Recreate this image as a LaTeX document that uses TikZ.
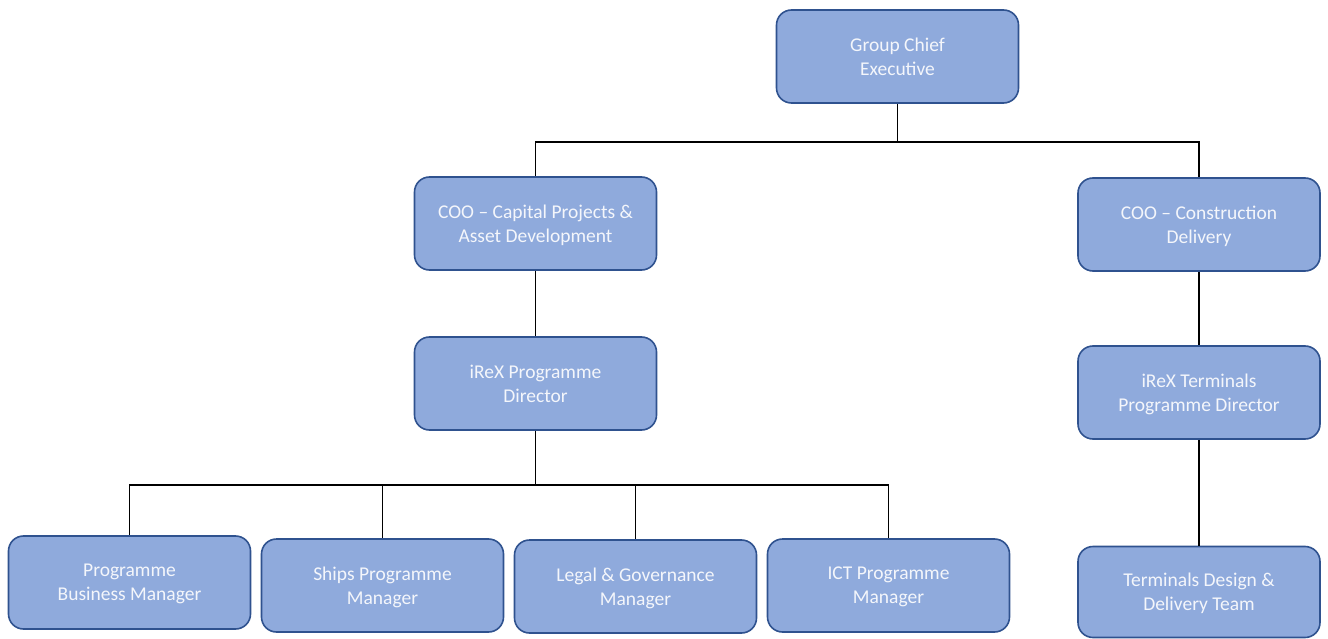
\documentclass[tikz,border=0pt]{standalone}
\usepackage{fontspec}
\setmainfont{Carlito}
\definecolor{boxfill}{HTML}{8FAADC}
\definecolor{boxline}{HTML}{2F528F}
\definecolor{boxtext}{HTML}{F4F6FB}
\begin{document}
\begin{tikzpicture}[x=1pt,y=-1pt,
  orgbox/.style={draw=boxline,fill=boxfill,line width=1.6pt,rounded corners=15pt,
    minimum width=242pt,minimum height=93pt,align=center,text=boxtext,
    font=\fontsize{19.5}{24}\selectfont,inner sep=0pt,text depth=0pt},
  link/.style={draw=black,line width=1.6pt}]
\useasboundingbox (0,0) rectangle (1328,639);
\node[orgbox] (gce) at (897.5,56.5) {Group Chief\\Executive};
\node[orgbox] (cooA) at (535.5,223.5) {COO -- Capital Projects \&\\Asset Development};
\node[orgbox] (cooC) at (1199,224.5) {COO -- Construction\\Delivery};
\node[orgbox] (ipd) at (535.5,383.5) {iReX Programme\\Director};
\node[orgbox] (itpd) at (1199,392.5) {iReX Terminals\\Programme Director};
\node[orgbox] (pbm) at (129.5,582.5) {Programme\\Business Manager};
\node[orgbox] (spm) at (382.5,585.5) {Ships Programme\\Manager};
\node[orgbox] (lgm) at (635.5,586.5) {Legal \& Governance\\Manager};
\node[orgbox] (ict) at (888.5,585.5) {ICT Programme\\Manager};
\node[orgbox,minimum height=91pt] (tdd) at (1199,592) {Terminals Design \&\\Delivery Team};
\coordinate (j1) at (897.5,142);
\coordinate (j2) at (535.5,485);
\draw[link] (gce.south) -- (j1);
\draw[link] (j1) -| (cooA.north);
\draw[link] (j1) -| (cooC.north);
\draw[link] (cooA.south) -- (ipd.north);
\draw[link] (cooC.south) -- (itpd.north);
\draw[link] (itpd.south) -- (tdd.north);
\draw[link] (ipd.south) -- (j2);
\draw[link] (j2) -| (pbm.north);
\draw[link] (j2) -| (spm.north);
\draw[link] (j2) -| (lgm.north);
\draw[link] (j2) -| (ict.north);
\end{tikzpicture}
\end{document}
